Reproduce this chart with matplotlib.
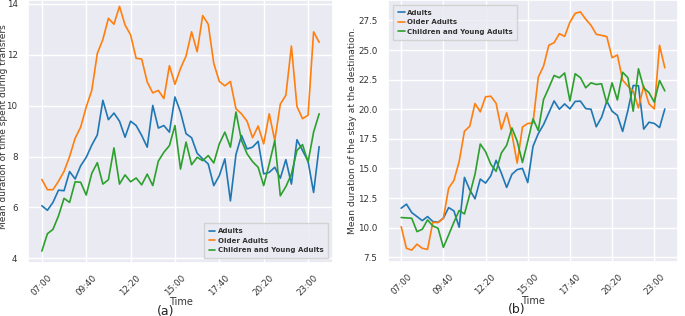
import matplotlib
matplotlib.use("Agg")
import matplotlib.pyplot as plt
import seaborn as sns
import numpy as np

sns.set_theme(style="darkgrid")
plt.rcParams['font.family'] = ['DejaVu Sans']

# 20-minute slots from 07:00 to 23:40
times = ["%02d:%02d" % divmod(7 * 60 + 20 * k, 60) for k in range(51)]
tick_labels = ["07:00", "09:40", "12:20", "15:00", "17:40", "20:20", "23:00"]

# (a) Mean duration of time spent during transfers
a_adults = [6.07, 5.89, 6.2, 6.68, 6.66, 7.41, 7.12, 7.64, 7.97, 8.45, 8.85, 10.21, 9.45, 9.71, 9.39,
            8.76, 9.39, 9.22, 8.83, 8.37, 10.01, 9.12, 9.22, 8.96, 10.34, 9.75, 8.9, 8.74, 8.13, 7.91,
            7.71, 6.86, 7.25, 7.91, 6.26, 8.08, 8.83, 8.3, 8.37, 8.6, 7.32, 7.38, 7.58, 7.15, 7.88,
            6.92, 8.66, 8.24, 7.82, 6.59, 8.39]
a_older = [7.1, 6.7, 6.7, 7.03, 7.42, 8.0, 8.72, 9.16, 9.95, 10.6, 12.05, 12.6, 13.43, 13.2, 13.9,
           13.17, 12.78, 11.86, 11.83, 10.93, 10.5, 10.6, 10.28, 11.57, 10.84, 11.46, 11.95, 12.9,
           12.12, 13.54, 13.2, 11.66, 10.95, 10.78, 10.95, 9.88, 9.68, 9.39, 8.74, 9.2, 8.5, 9.68,
           8.63, 10.06, 10.41, 12.34, 9.97, 9.49, 9.62, 12.9, 12.49]
a_children = [4.29, 4.97, 5.14, 5.67, 6.36, 6.2, 7.01, 6.99, 6.49, 7.34, 7.76, 6.92, 7.09, 8.34, 6.92,
              7.28, 7.01, 7.16, 6.89, 7.31, 6.86, 7.82, 8.17, 8.43, 9.22, 7.51, 8.57, 7.68, 7.97, 7.84,
              8.04, 7.75, 8.5, 8.96, 8.37, 9.75, 8.63, 8.11, 7.8, 7.58, 6.86, 7.71, 8.63, 6.46, 6.82,
              7.31, 8.24, 8.47, 7.78, 8.96, 9.68]

# (b) Mean duration of the stay at the destination
b_adults = [11.64, 11.98, 11.27, 10.93, 10.59, 10.93, 10.51, 10.45, 10.79, 11.69, 11.41, 10.03, 14.24,
            13.19, 12.43, 14.1, 13.76, 14.38, 15.68, 14.6, 13.39, 14.5, 14.9, 15.0, 13.8, 16.86, 17.94,
            18.7, 19.69, 20.7, 20.0, 20.45, 20.03, 20.66, 20.68, 20.05, 20.0, 18.52, 19.32, 20.68,
            19.83, 19.48, 18.12, 19.9, 22.0, 21.98, 18.32, 18.9, 18.8, 18.45, 20.02]
b_older = [10.08, 8.25, 8.1, 8.6, 8.25, 8.16, 10.45, 10.42, 10.79, 13.33, 13.98, 15.59, 18.14, 18.56,
           20.48, 19.78, 21.05, 21.1, 20.5, 18.3, 19.69, 17.9, 15.45, 18.5, 18.79, 18.84, 22.7, 23.64,
           25.4, 25.62, 26.38, 26.15, 27.35, 28.1, 28.22, 27.6, 27.09, 26.33, 26.24, 26.13, 24.35,
           24.58, 22.46, 21.95, 21.53, 20.11, 21.95, 20.45, 20.03, 25.4, 23.5]
b_children = [10.85, 10.82, 10.79, 9.66, 9.86, 10.65, 10.14, 9.94, 8.33, 9.38, 10.45, 11.45, 11.15,
              12.8, 14.5, 17.06, 16.42, 15.35, 14.75, 16.3, 16.95, 18.42, 17.3, 15.5, 17.29, 19.18,
              18.2, 20.82, 21.81, 22.85, 22.66, 23.06, 20.7, 23.0, 22.66, 21.81, 22.23, 22.09, 22.15,
              20.5, 22.23, 20.78, 23.12, 22.66, 19.83, 23.42, 21.8, 21.4, 20.6, 22.43, 21.55]

series_names = ["Adults", "Older Adults", "Children and Young Adults"]
colors = ["#1f77b4", "#ff7f0e", "#2ca02c"]

fig = plt.figure(figsize=(6.85, 3.16), dpi=100)
ax_a = fig.add_axes([28 / 685, 1 - 263 / 316, 305 / 685, 263 / 316])
ax_b = fig.add_axes([388 / 685, 1 - 262 / 316, 290 / 685, 262 / 316])

x = np.arange(len(times))
tick_pos = [times.index(t) for t in tick_labels]

for ax, data in ((ax_a, (a_adults, a_older, a_children)), (ax_b, (b_adults, b_older, b_children))):
    for name, vals, c in zip(series_names, data, colors):
        ax.plot(x, vals, color=c, lw=1.2, label=name)
    ax.set_xticks(tick_pos)
    ax.set_xticklabels(tick_labels, rotation=45, fontsize=6.3, color="#333333")
    ax.tick_params(axis="both", labelsize=6.3, pad=1.5, colors="#333333")
    ax.set_xlabel("Time", fontsize=7, color="#333333")
    for lbl in ax.get_xticklabels():
        lbl.set_ha("center")

ax_a.set_ylim(3.82, 14.15)
ax_a.set_yticks([4, 6, 8, 10, 12, 14])
ax_a.set_ylabel("Mean duration of time spent during transfers", fontsize=6.5, color="#333333")
ax_b.set_yticks([7.5, 10.0, 12.5, 15.0, 17.5, 20.0, 22.5, 25.0, 27.5])
ax_b.set_yticklabels(["7.5", "10.0", "12.5", "15.0", "17.5", "20.0", "22.5", "25.0", "27.5"])
ax_b.set_ylabel("Mean duration of the stay at the destination.", fontsize=6.6, color="#333333")

ax_a.yaxis.set_label_coords(-0.066, 0.52)
ax_b.yaxis.set_label_coords(-0.107, 0.5)
ax_a.xaxis.set_label_coords(0.5, -0.13)
ax_b.xaxis.set_label_coords(0.5, -0.13)

leg_kw = dict(handlelength=1.0, handletextpad=0.3, borderpad=0.7,
              labelspacing=0.5, frameon=True, fancybox=False,
              prop=dict(family=['DejaVu Sans'], size=5.0, weight='bold'))
la = ax_a.legend(loc="lower right", borderaxespad=0.7, **leg_kw)
lb = ax_b.legend(loc="upper left", borderaxespad=0.7, **leg_kw)
for lg in (la, lb):
    for t in lg.get_texts():
        t.set_color("#333333")

fig.text(166 / 685, 1 - 311 / 316, "(a)", fontsize=9, ha="center", va="center", color="#222222")
fig.text(517 / 685, 1 - 310 / 316, "(b)", fontsize=9, ha="center", va="center", color="#222222")

fig.savefig("out.png", dpi=100)
